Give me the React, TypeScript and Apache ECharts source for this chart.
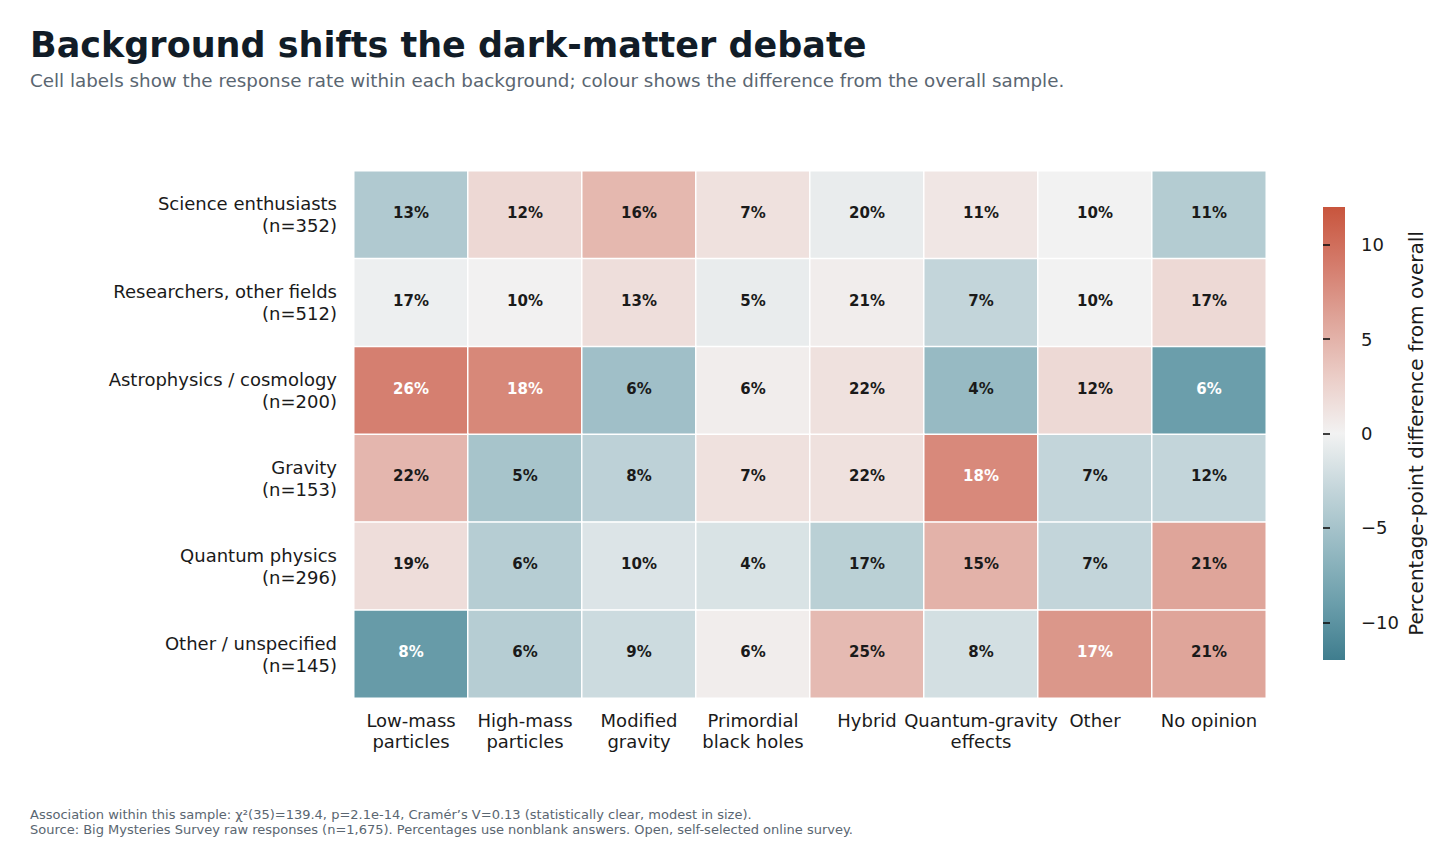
import React, { useEffect, useRef } from "react";
import * as echarts from "echarts";

const columns = [
  "Low-mass\nparticles",
  "High-mass\nparticles",
  "Modified\ngravity",
  "Primordial\nblack holes",
  "Hybrid",
  "Quantum-gravity\neffects",
  "Other",
  "No opinion",
];

const rows = [
  "Science enthusiasts\n(n=352)",
  "Researchers, other fields\n(n=512)",
  "Astrophysics / cosmology\n(n=200)",
  "Gravity\n(n=153)",
  "Quantum physics\n(n=296)",
  "Other / unspecified\n(n=145)",
];

// response rate (%) per row (background) across columns
const ratesScience = [13, 12, 16, 7, 20, 11, 10, 11];
const ratesResearchers = [17, 10, 13, 5, 21, 7, 10, 17];
const ratesAstro = [26, 18, 6, 6, 22, 4, 12, 6];
const ratesGravity = [22, 5, 8, 7, 22, 18, 7, 12];
const ratesQuantum = [19, 6, 10, 4, 17, 15, 7, 21];
const ratesOther = [8, 6, 9, 6, 25, 8, 17, 21];

// percentage-point difference from overall sample (colour)
const diffScience = [-4.3, 2.1, 4.6, 1.4, -0.6, 1.0, 0.0, -4.0];
const diffResearchers = [-0.3, 0.1, 1.6, -0.6, 0.4, -3.0, 0.0, 2.0];
const diffAstro = [8.7, 8.1, -5.4, 0.4, 1.4, -6.0, 2.0, -9.0];
const diffGravity = [4.7, -4.9, -3.4, 1.4, 1.4, 8.0, -3.0, -3.0];
const diffQuantum = [1.7, -3.9, -1.4, -1.6, -3.6, 5.0, -3.0, 6.0];
const diffOther = [-9.3, -3.9, -2.4, 0.4, 4.4, -2.0, 7.0, 6.0];

const rates = [ratesScience, ratesResearchers, ratesAstro, ratesGravity, ratesQuantum, ratesOther];
const diffs = [diffScience, diffResearchers, diffAstro, diffGravity, diffQuantum, diffOther];

const colorbarTicks = [-10, -5, 0, 5, 10];

const palette = [
  "#3f7d8e",
  "#6b9eab",
  "#97bac3",
  "#c3d5da",
  "#f2f2f2",
  "#ebcdc7",
  "#dfa59a",
  "#d47b6b",
  "#c8553d",
];

const FONT = "DejaVu Sans";

export default function App() {
  const ref = useRef<HTMLDivElement>(null);

  useEffect(() => {
    document.body.style.margin = "0";
    if (!ref.current) return;
    const chart = echarts.init(ref.current, undefined, { renderer: "svg" });

    const data: any[] = [];
    rows.forEach((_, r) => {
      columns.forEach((_, c) => {
        const d = diffs[r][c];
        data.push({
          value: [c, r, d, rates[r][c]],
          label: { color: Math.abs(d) > 6.5 ? "#ffffff" : "#1a1a1a" },
        });
      });
    });

    const cbLeft = 1323;
    const cbTop = 207;
    const cbW = 22;
    const cbH = 453;

    const gradStops = palette
      .slice()
      .reverse()
      .map((c, i) => ({ offset: i / (palette.length - 1), color: c }));

    chart.setOption({
      animation: false,
      textStyle: { fontFamily: FONT },
      grid: [
        { left: 354, top: 171, width: 912, height: 527, containLabel: false },
        { left: cbLeft, top: cbTop, width: cbW, height: cbH, containLabel: false },
      ],
      xAxis: [
        {
          type: "category",
          data: columns,
          gridIndex: 0,
          axisLine: { show: false },
          axisTick: { show: false },
          splitLine: { show: false },
          axisLabel: {
            fontFamily: FONT,
            fontSize: 18,
            lineHeight: 21,
            color: "#1a1a1a",
            margin: 12,
            interval: 0,
          },
        },
        {
          type: "value",
          gridIndex: 1,
          show: false,
        },
      ],
      yAxis: [
        {
          type: "category",
          data: rows,
          inverse: true,
          gridIndex: 0,
          axisLine: { show: false },
          axisTick: { show: false },
          splitLine: { show: false },
          axisLabel: {
            fontFamily: FONT,
            fontSize: 18,
            lineHeight: 22,
            color: "#1a1a1a",
            margin: 17,
            align: "right",
          },
        },
        {
          type: "value",
          gridIndex: 1,
          min: -12,
          max: 12,
          position: "right",
          axisLine: { show: false },
          splitLine: { show: false },
          axisTick: {
            show: true,
            length: 7,
            lineStyle: { color: "#111111", width: 1.6 },
            customValues: colorbarTicks,
          },
          axisLabel: {
            fontFamily: FONT,
            fontSize: 18,
            color: "#1a1a1a",
            margin: 16,
            customValues: colorbarTicks,
            formatter: (v: number) => (v < 0 ? "\u2212" + Math.abs(v) : String(v)),
          },
          name: "Percentage-point difference from overall",
          nameLocation: "middle",
          nameRotate: 90,
          nameGap: 61,
          nameTextStyle: { fontFamily: FONT, fontSize: 20, color: "#1a1a1a" },
        },
      ],
      visualMap: {
        show: false,
        min: -12,
        max: 12,
        dimension: 2,
        seriesIndex: 0,
        inRange: { color: palette },
      },
      series: [
        {
          type: "heatmap",
          xAxisIndex: 0,
          yAxisIndex: 0,
          data,
          itemStyle: { borderColor: "#ffffff", borderWidth: 1.5 },
          label: {
            show: true,
            fontFamily: FONT,
            fontSize: 15,
            fontWeight: "bold",
            offset: [0, -2],
            formatter: (p: any) => p.value[3] + "%",
          },
          emphasis: { disabled: true },
        },
      ],
      graphic: [
        {
          type: "rect",
          shape: { x: cbLeft, y: cbTop, width: cbW, height: cbH },
          style: {
            fill: new echarts.graphic.LinearGradient(0, 0, 0, 1, gradStops),
          },
          z: 0,
        },
        {
          type: "text",
          left: 30,
          top: 27,
          style: {
            text: "Background shifts the dark-matter debate",
            fontFamily: FONT,
            fontSize: 35,
            fontWeight: "bold",
            fill: "#111c27",
          },
        },
        {
          type: "text",
          left: 30,
          top: 71,
          style: {
            text: "Cell labels show the response rate within each background; colour shows the difference from the overall sample.",
            fontFamily: FONT,
            fontSize: 18.3,
            fill: "#5a6671",
          },
        },
        {
          type: "text",
          left: 30,
          top: 807,
          style: {
            text:
              "Association within this sample: \u03c7\u00b2(35)=139.4, p=2.1e-14, Cram\u00e9r\u2019s V=0.13 (statistically clear, modest in size).\nSource: Big Mysteries Survey raw responses (n=1,675). Percentages use nonblank answers. Open, self-selected online survey.",
            fontFamily: FONT,
            fontSize: 13,
            lineHeight: 15,
            fill: "#5a6671",
          },
        },
      ],
    });

    return () => chart.dispose();
  }, []);

  return <div ref={ref} style={{ width: 1456, height: 866 }} />;
}
